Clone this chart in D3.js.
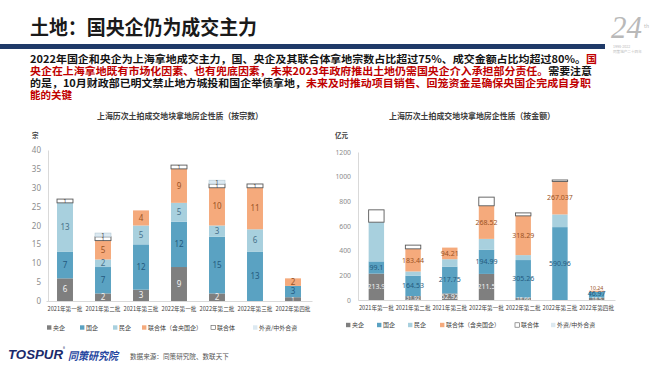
<!DOCTYPE html>
<html lang="zh">
<head>
<meta charset="UTF-8">
<title>土地：国央企仍为成交主力</title>
<script src="https://d3js.org/d3.v7.min.js"></script>
<style>
  body { margin: 0; background: #fff; }
  svg { display: block; font-family: "Noto Sans CJK SC", "Noto Sans", sans-serif; }
</style>
</head>
<body>
<div id="chart"></div>
<script>
// categories and series
const categories = ["2021年第一批", "2021年第二批", "2021年第三批", "2022年第一批", "2022年第二批", "2022年第三批", "2022年第四批"];
const seriesKeys = ["央企", "国企", "民企", "联合体（含央国企）", "联合体", "外资/中外合资"];

// by count (宗)
const countYangqi = [6, 2, 3, 9, 2, 0, 1];
const countGuoqi = [7, 7, 12, 12, 15, 13, 3];
const countMinqi = [13, 2, 5, 5, 3, 6, 0];
const countLianheHan = [0, 5, 4, 9, 10, 11, 2];
const countLianhe = [1, 1, 0, 1, 1, 1, 0];
const countWaizi = [0, 1, 0, 0, 1, 0, 0];

// by amount (亿元)
const amtYangqi = [213.9, 31.92, 52.92, 211.5, 18.66, 0, 18.5];
const amtGuoqi = [99.1, 164.53, 217.75, 194.99, 305.26, 590.96, 46.97];
const amtMinqi = [318, 35, 60, 89, 40, 103, 0];
const amtLianheHan = [0, 183.44, 94.21, 268.52, 318.29, 267.037, 10.24];
const amtLianhe = [100, 30, 0, 70, 24, 12, 0];
const amtWaizi = [0, 0, 0, 0, 0, 0, 0];

const countTicks = [0, 5, 10, 15, 20, 25, 30, 35, 40];
const amtTicks = [0, 200, 400, 600, 800, 1000, 1200];

const colors = {
  "央企": "#7f7f7f",
  "国企": "#5aa2c2",
  "民企": "#a8d0de",
  "联合体（含央国企）": "#f5aa7c",
  "联合体": "#ffffff",
  "外资/中外合资": "#dce9f1"
};
const labelColors = {
  "央企": "#f2f2f2",
  "国企": "#245a80",
  "民企": "#47708a",
  "联合体（含央国企）": "#9a5224",
  "联合体": "#444",
  "外资/中外合资": "#444"
};

const svg = d3.select("#chart").append("svg")
  .attr("width", 660)
  .attr("height", 372);

svg.append("rect").attr("width", 660).attr("height", 372).attr("fill", "#fff");

// header
svg.append("text")
  .attr("x", 30).attr("y", 35)
  .attr("font-size", 20).attr("font-weight", "bold").attr("fill", "#1a1a1a")
  .attr("textLength", 227).attr("lengthAdjust", "spacingAndGlyphs")
  .text("土地：国央企仍为成交主力");

svg.append("rect").attr("x", 0).attr("y", 44).attr("width", 605).attr("height", 5).attr("fill", "#1f3a68");

// top-right anniversary mark
svg.append("text").attr("x", 611).attr("y", 38)
  .attr("font-size", 31).attr("font-style", "italic").attr("fill", "#b9b9b9")
  .attr("font-family", "Liberation Serif, serif")
  .text("24");
svg.append("text").attr("x", 644).attr("y", 28).attr("font-size", 5).attr("fill", "#b9b9b9").text("th");
svg.append("text").attr("x", 613).attr("y", 48).attr("font-size", 3.6).attr("fill", "#bbb").text("1998-2022");
svg.append("text").attr("x", 613).attr("y", 53).attr("font-size", 3.6).attr("fill", "#bbb").text("同策地产二十四年");

// paragraph
const red = "#c00000", ink = "#141414";
const paraLines = [
  { y: 63, len: 567, parts: [["2022年国企和央企为上海拿地成交主力，国、央企及其联合体拿地宗数占比超过75%、成交金额占比均超过80%。", ink], ["国", red]] },
  { y: 75, len: 562, parts: [["央企在上海拿地既有市场化因素、也有兜底因素，未来2023年政府推出土地仍需国央企介入承担部分责任。", red], ["需要注意", ink]] },
  { y: 87, len: 561, parts: [["的是，10月财政部已明文禁止地方城投和国企举债拿地，", ink], ["未来及时推动项目销售、回笼资金是确保央国企完成自身职", red]] },
  { y: 99, len: null, parts: [["能的关键", red]] }
];
paraLines.forEach(l => {
  const t = svg.append("text")
    .attr("x", 30).attr("y", l.y)
    .attr("font-size", 10.5).attr("font-weight", "bold");
  if (l.len) t.attr("textLength", l.len).attr("lengthAdjust", "spacingAndGlyphs");
  l.parts.forEach(p => t.append("tspan").attr("fill", p[1]).text(p[0]));
});

function drawChart(o) {
  const x = d3.scaleBand().domain(categories).range(o.xr).paddingInner(0.58).paddingOuter(0.29);
  const y = d3.scaleLinear().domain(o.dom).range(o.yr);

  const rows = categories.map((c, i) => {
    const r = { cat: c };
    seriesKeys.forEach((k, j) => r[k] = o.series[j][i]);
    return r;
  });
  const stacked = d3.stack().keys(seriesKeys)(rows);

  // title + unit
  svg.append("text")
    .attr("x", o.titleX).attr("y", 119)
    .attr("text-anchor", "middle")
    .attr("font-size", 8.5).attr("font-weight", "bold").attr("fill", "#404040")
    .attr("textLength", 166).attr("lengthAdjust", "spacingAndGlyphs")
    .text(o.title);
  svg.append("text")
    .attr("x", o.unitX).attr("y", 138)
    .attr("font-size", 6.5).attr("font-weight", "bold").attr("fill", "#404040")
    .text(o.unit);

  // y axis
  const ay = svg.append("g")
    .attr("transform", `translate(${o.axisX},0)`)
    .call(d3.axisLeft(y).tickValues(o.ticks).tickFormat(d3.format("d")).tickSize(0).tickSizeOuter(0).tickPadding(o.tickPad));
  ay.select(".domain").attr("stroke", "#d9d9d9");
  ay.selectAll("text")
    .attr("fill", "#8c8c8c")
    .style("font-size", o.tickFont + "px")
    .style("font-family", "'Noto Sans', sans-serif");

  // x axis
  const ax = svg.append("g")
    .attr("transform", `translate(0,${o.yr[0]})`)
    .call(d3.axisBottom(x).tickSize(0).tickSizeOuter(0).tickPadding(6));
  ax.select(".domain").attr("stroke", "#d9d9d9");
  ax.selectAll("text")
    .attr("fill", "#404040")
    .style("font-size", "5.6px")
    .style("font-family", "'Noto Sans CJK SC', sans-serif");

  // bars
  const layers = svg.append("g").selectAll("g")
    .data(stacked)
    .join("g")
    .attr("fill", d => colors[d.key]);

  layers.selectAll("rect")
    .data(d => d.map(v => Object.assign(v, { key: d.key })).filter(v => v[1] - v[0] > 0))
    .join("rect")
    .attr("x", d => x(d.data.cat))
    .attr("y", d => y(d[1]))
    .attr("width", x.bandwidth())
    .attr("height", d => y(d[0]) - y(d[1]))
    .attr("stroke", d => d.key === "联合体" ? "#595959" : (d.key === "外资/中外合资" ? "#b4c8d4" : "none"))
    .attr("stroke-width", d => d.key === "联合体" ? 0.9 : 0.6);

  // data labels (bottom-up per bar, nudged apart when segments are thin)
  const lab = svg.append("g");
  const lastY = {};
  stacked.forEach(s => {
    if (!o.labelKeys.includes(s.key)) return;
    s.forEach(v => {
      const val = v[1] - v[0];
      if (val <= 0) return;
      const h = y(v[0]) - y(v[1]);
      let cy = (y(v[0]) + y(v[1])) / 2;
      if (o.labelGap && lastY[v.data.cat] !== undefined) cy = Math.min(cy, lastY[v.data.cat] - o.labelGap);
      lastY[v.data.cat] = cy;
      lab.append("text")
        .attr("x", x(v.data.cat) + x.bandwidth() / 2)
        .attr("y", cy)
        .attr("dy", "0.35em")
        .attr("text-anchor", "middle")
        .attr("font-size", h < 5 ? o.labelFont * 0.75 : o.labelFont)
        .attr("fill", labelColors[s.key])
        .style("font-family", "'Noto Sans', sans-serif")
        .text(o.fmt(v.data[s.key]));
    });
  });

  // legend
  const lg = svg.append("g");
  seriesKeys.forEach((k, i) => {
    const lx = o.legendX[i];
    lg.append("rect")
      .attr("x", lx - 2).attr("y", o.legendY - 2.2)
      .attr("width", 4.4).attr("height", 4.4)
      .attr("fill", colors[k])
      .attr("stroke", k === "联合体" ? "#595959" : "none")
      .attr("stroke-width", 0.6);
    lg.append("text")
      .attr("x", lx + 4).attr("y", o.legendY)
      .attr("dy", "0.35em")
      .attr("font-size", 6).attr("fill", "#404040")
      .text(k);
  });
}

drawChart({
  xr: [46, 312], dom: [0, 40], yr: [301, 150],
  axisX: 48, tickPad: 7, tickFont: 8,
  ticks: countTicks,
  series: [countYangqi, countGuoqi, countMinqi, countLianheHan, countLianhe, countWaizi],
  title: "上海历次土拍成交地块拿地房企性质（按宗数）", titleX: 180,
  unit: "宗", unitX: 32,
  labelKeys: seriesKeys, labelFont: 8, labelGap: 0,
  fmt: d => d3.format("d")(d),
  legendX: [49, 82, 115, 144, 213, 255], legendY: 327.5
});

drawChart({
  xr: [358, 615], dom: [0, 1200], yr: [300, 152],
  axisX: 358, tickPad: 7, tickFont: 6.8,
  ticks: amtTicks,
  series: [amtYangqi, amtGuoqi, amtMinqi, amtLianheHan, amtLianhe, amtWaizi],
  title: "上海历次土拍成交地块拿地房企性质（按金额）", titleX: 472,
  unit: "亿元", unitX: 335,
  labelKeys: ["央企", "国企", "联合体（含央国企）"], labelFont: 7, labelGap: 5.5,
  fmt: d => String(d),
  legendX: [348, 379, 410, 442, 517, 553], legendY: 325
});

// footer
svg.append("text")
  .attr("x", 8).attr("y", 359)
  .attr("font-size", 13).attr("font-weight", "bold").attr("font-style", "italic")
  .attr("fill", "#1b2a6b")
  .attr("font-family", "'Liberation Sans', Arial, sans-serif")
  .attr("textLength", 55).attr("lengthAdjust", "spacingAndGlyphs")
  .text("TOSPUR");
svg.append("text").attr("x", 63).attr("y", 350).attr("font-size", 4).attr("fill", "#1b2a6b").text("®");
svg.append("text")
  .attr("x", 68).attr("y", 359.5)
  .attr("font-size", 11).attr("font-weight", "bold").attr("font-style", "italic")
  .attr("fill", "#2747a0")
  .attr("textLength", 50).attr("lengthAdjust", "spacingAndGlyphs")
  .text("同策研究院");
svg.append("text")
  .attr("x", 130).attr("y", 358.5)
  .attr("font-size", 6.6).attr("fill", "#555")
  .text("数据来源：同策研究院、数联天下");
</script>
</body>
</html>
